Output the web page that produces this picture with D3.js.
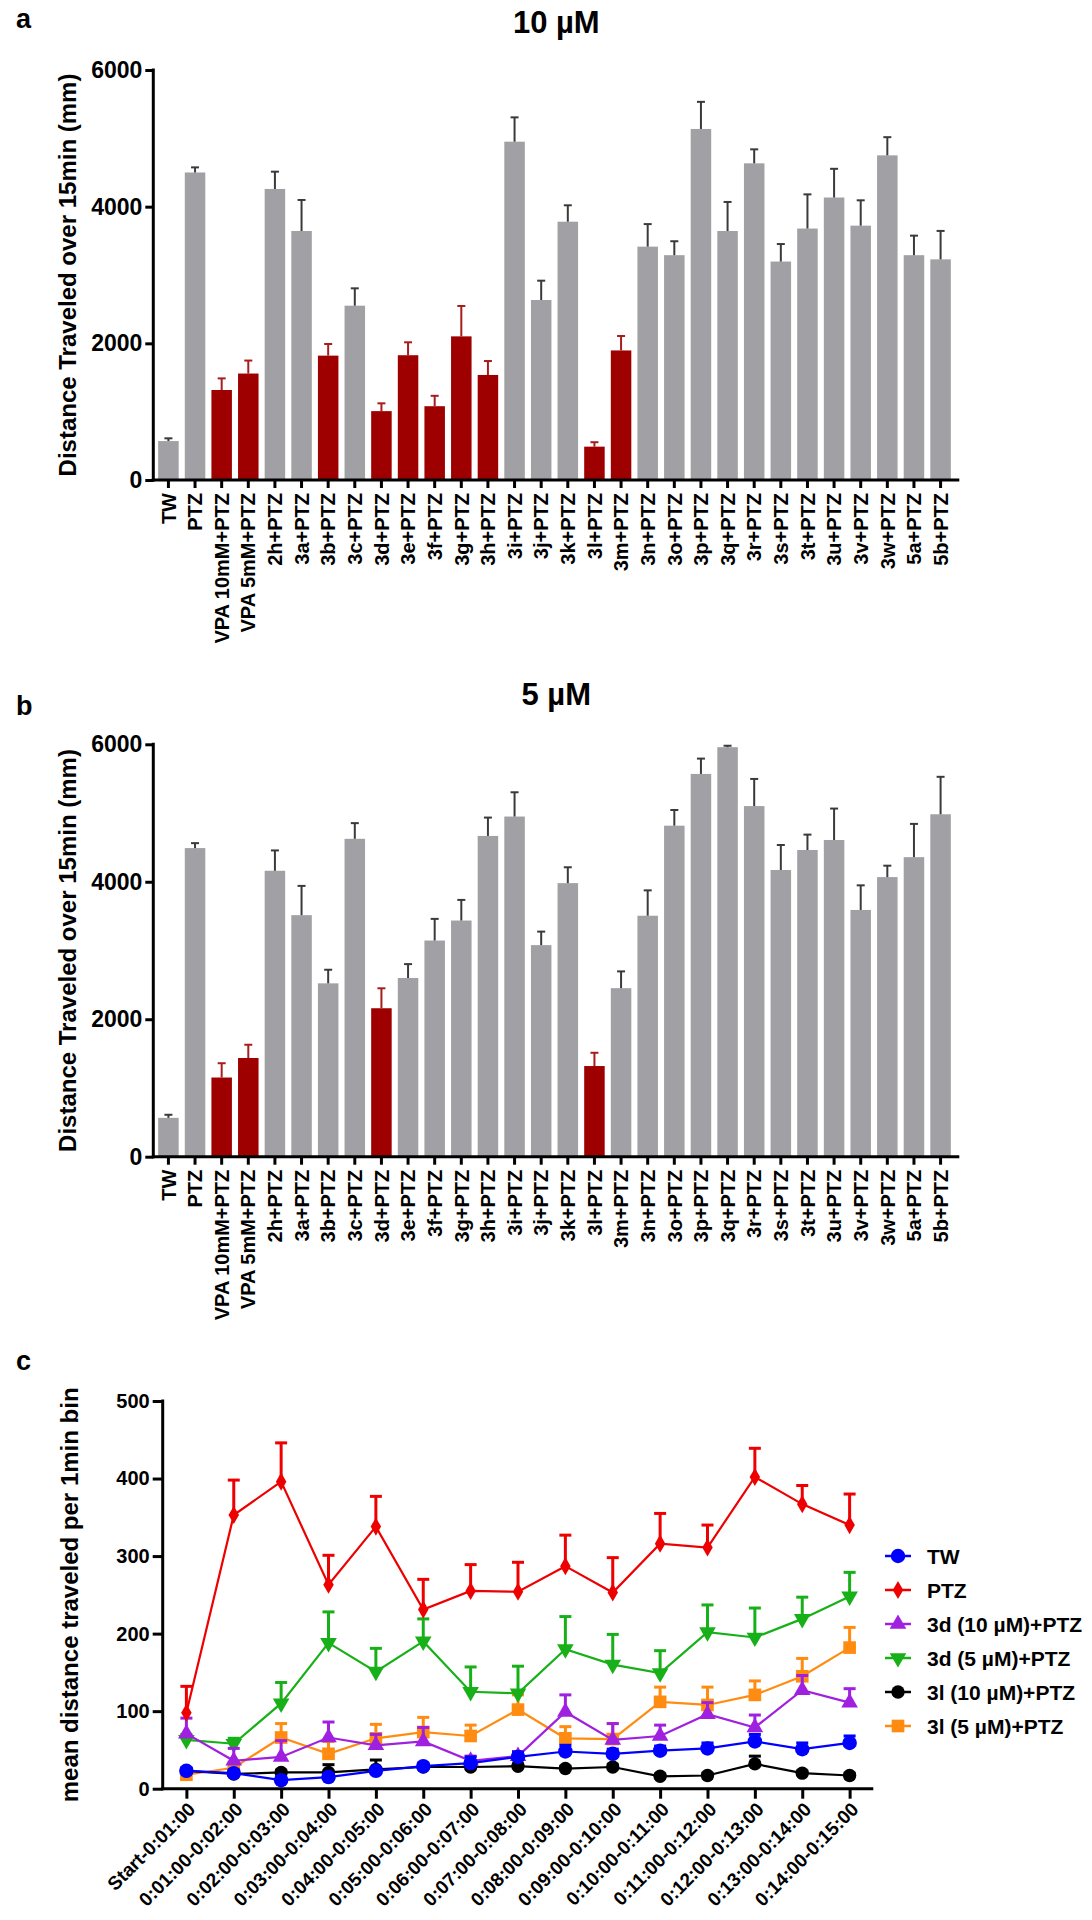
<!DOCTYPE html>
<html>
<head>
<meta charset="utf-8">
<script src="https://cdn.jsdelivr.net/npm/d3@7"></script>
<style>
  body { margin: 0; background: #fff; }
  svg { display: block; font-family: 'Liberation Sans', Arial, sans-serif; font-weight: bold; }
</style>
</head>
<body>
<div id="chart"></div>
<script>
// ---- data: panels a and b (total distance over 15 min) ----
const categories = ['TW', 'PTZ', 'VPA 10mM+PTZ', 'VPA 5mM+PTZ', '2h+PTZ', '3a+PTZ', '3b+PTZ', '3c+PTZ',
    '3d+PTZ', '3e+PTZ', '3f+PTZ', '3g+PTZ', '3h+PTZ', '3i+PTZ', '3j+PTZ', '3k+PTZ', '3l+PTZ', '3m+PTZ',
    '3n+PTZ', '3o+PTZ', '3p+PTZ', '3q+PTZ', '3r+PTZ', '3s+PTZ', '3t+PTZ', '3u+PTZ', '3v+PTZ', '3w+PTZ',
    '5a+PTZ', '5b+PTZ'];

const means10uM = [570, 4500, 1317, 1558, 4259, 3644, 1820, 2551, 1008, 1826, 1080, 2102, 1537, 4951, 2634,
    3780, 488, 1896, 3415, 3290, 5137, 3644, 4634, 3197, 3680, 4134, 3722, 4751, 3290, 3229];
const sem10uM = [40, 75, 170, 190, 253, 454, 170, 254, 114, 189, 152, 444, 204, 356, 283,
    240, 65, 211, 330, 204, 397, 425, 205, 256, 500, 420, 371, 266, 286, 416];
const hits10uM = ['VPA 10mM+PTZ', 'VPA 5mM+PTZ', '3b+PTZ', '3d+PTZ', '3e+PTZ', '3f+PTZ', '3g+PTZ',
    '3h+PTZ', '3l+PTZ', '3m+PTZ'];

const means5uM = [565, 4490, 1152, 1436, 4160, 3514, 2522, 4625, 2160, 2600, 3145, 3436, 4667, 4949, 3078,
    3980, 1319, 2452, 3506, 4816, 5569, 5958, 5101, 4171, 4462, 4608, 3590, 4068, 4358, 4982];
const sem5uM = [45, 72, 208, 193, 296, 426, 198, 228, 290, 202, 315, 300, 267, 353, 197,
    231, 193, 244, 369, 228, 223, 21, 395, 364, 224, 457, 358, 166, 484, 545];
const hits5uM = ['VPA 10mM+PTZ', 'VPA 5mM+PTZ', '3d+PTZ', '3l+PTZ'];

const barTicks = [0, 2000, 4000, 6000];

// ---- data: panel c (distance per 1 min bin) ----
const timeBins = ['Start-0:01:00', '0:01:00-0:02:00', '0:02:00-0:03:00', '0:03:00-0:04:00',
    '0:04:00-0:05:00', '0:05:00-0:06:00', '0:06:00-0:07:00', '0:07:00-0:08:00', '0:08:00-0:09:00',
    '0:09:00-0:10:00', '0:10:00-0:11:00', '0:11:00-0:12:00', '0:12:00-0:13:00', '0:13:00-0:14:00',
    '0:14:00-0:15:00'];

const seriesNames = ['TW', 'PTZ', '3d (10 µM)+PTZ', '3d (5 µM)+PTZ', '3l (10 µM)+PTZ', '3l (5 µM)+PTZ'];

const twMeans = [23, 20, 11, 15, 23, 29, 33, 41, 48, 45, 49, 52, 61, 51, 59];
const twSem = [4, 4, 4, 4, 4, 4, 8, 6, 8, 6, 6, 7, 9, 8, 9];
const ptzMeans = [98, 353, 396, 263, 338, 231, 255, 254, 287, 253, 316, 311, 402, 367, 340];
const ptzSem = [34, 45, 50, 38, 39, 39, 34, 38, 40, 45, 39, 29, 37, 24, 40];
const d10Means = [71, 36, 41, 66, 56, 61, 36, 42, 99, 63, 68, 96, 79, 127, 111];
const d10Sem = [20, 16, 21, 20, 14, 18, 6, 6, 22, 21, 14, 15, 16, 19, 18];
const d5Means = [63, 58, 110, 188, 151, 190, 125, 123, 180, 160, 149, 202, 195, 219, 248];
const d5Sem = [7, 7, 27, 40, 30, 29, 32, 35, 42, 39, 29, 35, 38, 28, 31];
const l10Means = [23, 19, 21, 21, 25, 28, 28, 29, 26, 28, 16, 17, 32, 20, 17];
const l10Sem = [3, 3, 3, 10, 12, 3, 3, 3, 3, 3, 3, 3, 10, 3, 3];
const l5Means = [18, 27, 66, 45, 65, 73, 68, 102, 65, 64, 112, 108, 121, 145, 182];
const l5Sem = [5, 5, 18, 16, 18, 19, 14, 19, 15, 20, 19, 23, 18, 23, 26];

const lineTicks = [0, 100, 200, 300, 400, 500];

const width = 1092;
const height = 1920;

const svg = d3.select('#chart')
    .append('svg')
    .attr('width', width)
    .attr('height', height)
    .attr('viewBox', [0, 0, width, height]);

svg.append('rect').attr('width', width).attr('height', height).attr('fill', '#fff');

const styleAxis = (g, fontSize) => {
    g.select('.domain').remove();
    g.selectAll('.tick line').attr('stroke', '#000').attr('stroke-width', 3);
    g.selectAll('.tick text').attr('fill', '#000').style('font-size', fontSize + 'px').style('font-weight', 'bold');
};

const drawBarPanel = (opts) => {
    const { means, sems, hits, yTop, yBottom, title, titleY, letter, letterY } = opts;
    const axisLeft = 153.3;
    const axisRight = 959.3;

    const x = d3.scaleBand()
        .domain(categories)
        .range([155.5, 953.5])
        .paddingInner(0.23)
        .paddingOuter(0.1);

    const y = d3.scaleLinear()
        .domain([0, 6000])
        .range([yBottom, yTop]);

    const data = categories.map((c, i) => ({ cat: c, val: means[i], sem: sems[i], hit: hits.includes(c) }));
    const cx = (d) => x(d.cat) + x.bandwidth() / 2;

    const g = svg.append('g');

    // bars
    g.append('g')
        .selectAll('rect')
        .data(data)
        .join('rect')
        .attr('x', (d) => x(d.cat))
        .attr('y', (d) => y(d.val))
        .attr('width', x.bandwidth())
        .attr('height', (d) => y(0) - y(d.val))
        .attr('fill', (d) => (d.hit ? '#9e0000' : '#a0a0a5'));

    // error bars (upper only)
    const eb = g.append('g')
        .selectAll('g')
        .data(data)
        .join('g')
        .attr('stroke', (d) => (d.hit ? '#a81c1c' : '#3a3a3a'))
        .attr('stroke-width', 2);

    eb.append('line')
        .attr('x1', cx).attr('x2', cx)
        .attr('y1', (d) => y(d.val))
        .attr('y2', (d) => y(d.val + d.sem));
    eb.append('line')
        .attr('x1', (d) => cx(d) - 4).attr('x2', (d) => cx(d) + 4)
        .attr('y1', (d) => y(d.val + d.sem))
        .attr('y2', (d) => y(d.val + d.sem));

    // y axis
    const yAxis = g.append('g')
        .attr('transform', `translate(${axisLeft},0)`)
        .call(d3.axisLeft(y).tickValues(barTicks).tickSize(8).tickPadding(3).tickFormat(d3.format('d')));
    styleAxis(yAxis, 23);

    // x axis with vertical labels
    const xAxis = g.append('g')
        .attr('transform', `translate(0,${yBottom})`)
        .call(d3.axisBottom(x).tickSize(8).tickSizeOuter(0));
    styleAxis(xAxis, 20);
    xAxis.selectAll('.tick text')
        .attr('y', 0)
        .attr('x', -13)
        .attr('dy', '0.36em')
        .attr('transform', 'rotate(-90)')
        .style('text-anchor', 'end');

    // axis lines
    g.append('line')
        .attr('x1', axisLeft).attr('x2', axisLeft)
        .attr('y1', yBottom + 1.5).attr('y2', yTop - 1.5)
        .attr('stroke', '#000').attr('stroke-width', 3);
    g.append('line')
        .attr('x1', axisLeft - 1.5).attr('x2', axisRight)
        .attr('y1', yBottom).attr('y2', yBottom)
        .attr('stroke', '#000').attr('stroke-width', 3);

    // labels
    g.append('text')
        .attr('transform', `translate(76,${(yTop + yBottom) / 2}) rotate(-90)`)
        .attr('text-anchor', 'middle')
        .style('font-size', '24px')
        .text('Distance Traveled over 15min (mm)');

    g.append('text')
        .attr('x', (axisLeft + axisRight) / 2)
        .attr('y', titleY)
        .attr('text-anchor', 'middle')
        .style('font-size', '31px')
        .text(title);

    g.append('text')
        .attr('x', 16)
        .attr('y', letterY)
        .style('font-size', '27px')
        .text(letter);
};

drawBarPanel({
    means: means10uM, sems: sem10uM, hits: hits10uM,
    yTop: 70, yBottom: 480, title: '10 µM', titleY: 33, letter: 'a', letterY: 28,
});

drawBarPanel({
    means: means5uM, sems: sem5uM, hits: hits5uM,
    yTop: 744.3, yBottom: 1156.7, title: '5 µM', titleY: 705, letter: 'b', letterY: 715,
});

// ---- panel c ----
const drawLinePanel = () => {
    const axisLeft = 162.7;
    const axisRight = 873.3;
    const yTop = 1401;
    const yBottom = 1788.7;

    const x = d3.scalePoint()
        .domain(timeBins)
        .range([axisLeft, axisRight])
        .padding(0.5);

    const y = d3.scaleLinear()
        .domain([0, 500])
        .range([yBottom, yTop]);

    const series = [
        { name: seriesNames[0], means: twMeans, sems: twSem, color: '#0000ff', symbol: d3.symbolCircle, size: 165, rot: 0 },
        { name: seriesNames[1], means: ptzMeans, sems: ptzSem, color: '#ee0000', symbol: d3.symbolDiamond, size: 95, rot: 0 },
        { name: seriesNames[2], means: d10Means, sems: d10Sem, color: '#a020e0', symbol: d3.symbolTriangle, size: 120, rot: 0 },
        { name: seriesNames[3], means: d5Means, sems: d5Sem, color: '#18b018', symbol: d3.symbolTriangle, size: 120, rot: 180 },
        { name: seriesNames[4], means: l10Means, sems: l10Sem, color: '#000000', symbol: d3.symbolCircle, size: 140, rot: 0 },
        { name: seriesNames[5], means: l5Means, sems: l5Sem, color: '#ff8c10', symbol: d3.symbolSquare, size: 160, rot: 0 },
    ];

    const g = svg.append('g');

    // draw from the last legend entry so TW ends on top
    const drawOrder = [5, 4, 3, 2, 1, 0];
    drawOrder.forEach((si) => {
        const s = series[si];
        const pts = timeBins.map((t, i) => ({ t: t, v: s.means[i], e: s.sems[i] }));
        const sg = g.append('g');

        const eb = sg.append('g')
            .attr('stroke', s.color)
            .attr('stroke-width', 3)
            .selectAll('g')
            .data(pts)
            .join('g');
        eb.append('line')
            .attr('x1', (d) => x(d.t)).attr('x2', (d) => x(d.t))
            .attr('y1', (d) => y(d.v)).attr('y2', (d) => y(d.v + d.e));
        eb.append('line')
            .attr('x1', (d) => x(d.t) - 6).attr('x2', (d) => x(d.t) + 6)
            .attr('y1', (d) => y(d.v + d.e)).attr('y2', (d) => y(d.v + d.e));

        sg.append('path')
            .datum(pts)
            .attr('fill', 'none')
            .attr('stroke', s.color)
            .attr('stroke-width', 2.2)
            .attr('d', d3.line().x((d) => x(d.t)).y((d) => y(d.v)));

        sg.append('g')
            .selectAll('path')
            .data(pts)
            .join('path')
            .attr('transform', (d) => `translate(${x(d.t)},${y(d.v)}) rotate(${s.rot})`)
            .attr('d', d3.symbol(s.symbol, s.size))
            .attr('fill', s.color);
    });

    // axes
    const yAxis = g.append('g')
        .attr('transform', `translate(${axisLeft},0)`)
        .call(d3.axisLeft(y).tickValues(lineTicks).tickSize(10).tickPadding(3));
    styleAxis(yAxis, 20);

    const xAxis = g.append('g')
        .attr('transform', `translate(0,${yBottom})`)
        .call(d3.axisBottom(x).tickSize(10).tickSizeOuter(0));
    styleAxis(xAxis, 19);
    xAxis.selectAll('.tick text')
        .attr('x', 0)
        .attr('y', 0)
        .attr('dy', '0.35em')
        .attr('transform', 'translate(5,17) rotate(-45)')
        .style('text-anchor', 'end');

    g.append('line')
        .attr('x1', axisLeft).attr('x2', axisLeft)
        .attr('y1', yBottom + 1.5).attr('y2', yTop - 1.5)
        .attr('stroke', '#000').attr('stroke-width', 3);
    g.append('line')
        .attr('x1', axisLeft - 1.5).attr('x2', axisRight)
        .attr('y1', yBottom).attr('y2', yBottom)
        .attr('stroke', '#000').attr('stroke-width', 3);

    g.append('text')
        .attr('transform', `translate(78,${(yTop + yBottom) / 2}) rotate(-90)`)
        .attr('text-anchor', 'middle')
        .style('font-size', '24px')
        .text('mean distance traveled per 1min bin');

    g.append('text')
        .attr('x', 16)
        .attr('y', 1370)
        .style('font-size', '27px')
        .text('c');

    // legend
    const legend = g.append('g')
        .selectAll('g')
        .data(series)
        .join('g')
        .attr('transform', (d, i) => `translate(885,${1556 + i * 34})`);
    legend.append('line')
        .attr('x1', 0).attr('x2', 26)
        .attr('stroke', (d) => d.color)
        .attr('stroke-width', 2.5);
    legend.append('path')
        .attr('transform', (d) => `translate(13,0) rotate(${d.rot})`)
        .attr('d', (d) => d3.symbol(d.symbol, d.size)())
        .attr('fill', (d) => d.color);
    legend.append('text')
        .attr('x', 42)
        .attr('dy', '0.36em')
        .style('font-size', '21px')
        .text((d) => d.name);
};

drawLinePanel();
</script>
</body>
</html>
